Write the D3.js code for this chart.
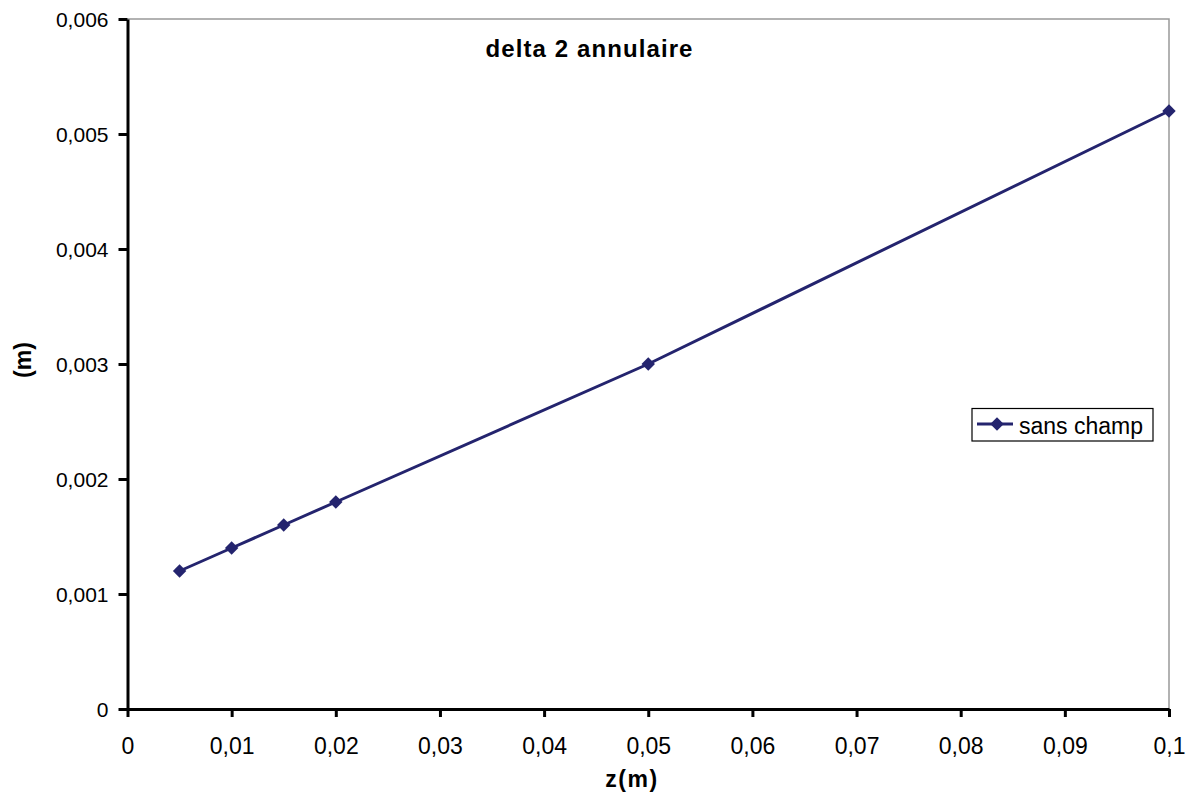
<!DOCTYPE html>
<html><head><meta charset="utf-8">
<script src="https://cdn.jsdelivr.net/npm/d3@7"></script>
<style>body{margin:0;background:#fff;}svg{display:block;font-family:"Liberation Sans",Arial,sans-serif;}</style>
</head><body>
<svg id="c" width="1194" height="793"></svg>
<script>
const xValues = [0.005, 0.01, 0.015, 0.02, 0.05, 0.1];
const yValues = [0.0012, 0.0014, 0.0016, 0.0018, 0.003, 0.0052];
const xTicks = [0,0.01,0.02,0.03,0.04,0.05,0.06,0.07,0.08,0.09,0.1];
const yTicks = [0,0.001,0.002,0.003,0.004,0.005,0.006];
const seriesName = "sans champ";
const title = "delta 2 annulaire";
const xTitle = "z(m)";
const yTitle = "(m)";

const svg = d3.select("#c");
const L=127.5, R=1169, T=19, B=709;
const x = d3.scaleLinear().domain([0,0.1]).range([L,R]);
const y = d3.scaleLinear().domain([0,0.006]).range([B,T]);
const fmt = d => d===0 ? "0" : d3.format(".3~f")(d).replace(".",",");
const color = "#24246e";
const FS = 23;

// plot border (gray top/right)
svg.append("path").attr("d",`M${L},${T}H${R}V${B}`).attr("fill","none").attr("stroke","#999").attr("stroke-width",1.5);

const xa = svg.append("g").attr("transform",`translate(0,${B})`)
  .call(d3.axisBottom(x).tickValues(xTicks).tickSize(8).tickFormat(fmt).tickSizeOuter(0));
const ya = svg.append("g").attr("transform",`translate(${L},0)`)
  .call(d3.axisLeft(y).tickValues(yTicks).tickSize(9).tickFormat(fmt).tickSizeOuter(0));
[xa,ya].forEach(a=>{
  a.select(".domain").attr("stroke","#000").attr("stroke-width",3);
  a.selectAll(".tick line").attr("stroke","#000").attr("stroke-width",3);
  a.selectAll("text").attr("font-size",FS).attr("fill","#000").attr("font-family","Liberation Sans, Arial, sans-serif");
});
xa.selectAll(".tick text").attr("y",45).attr("dy",0);
ya.selectAll(".tick text").attr("x",-19).attr("dy","0.35em").attr("font-size",21);

const pts = xValues.map((v,i)=>[v,yValues[i]]);
svg.append("path").datum(pts).attr("fill","none").attr("stroke",color).attr("stroke-width",3)
  .attr("d",d3.line().x(d=>x(d[0])).y(d=>y(d[1])));
const diamond = d3.symbol().type(d3.symbolDiamond2).size(115);
svg.selectAll(".pt").data(pts).join("path").attr("class","pt")
  .attr("transform",d=>`translate(${x(d[0])},${y(d[1])})`).attr("d",diamond).attr("fill",color);

svg.append("text").attr("x",589.5).attr("y",57).attr("text-anchor","middle")
  .attr("font-size",24).attr("letter-spacing",1.1).attr("font-weight","bold").text(title);
svg.append("text").attr("x",632).attr("y",787).attr("text-anchor","middle")
  .attr("font-size",FS).attr("font-weight","bold").attr("letter-spacing",1.5).text(xTitle);
svg.append("text").attr("transform","translate(31,360) rotate(-90)").attr("text-anchor","middle")
  .attr("font-size",FS).attr("font-weight","bold").text(yTitle);

// legend
const lg = svg.append("g");
lg.append("rect").attr("x",972).attr("y",408.5).attr("width",181).attr("height",32.5)
  .attr("fill","#fff").attr("stroke","#000").attr("stroke-width",1.2);
lg.append("line").attr("x1",977).attr("x2",1013).attr("y1",424).attr("y2",424).attr("stroke",color).attr("stroke-width",3);
lg.append("path").attr("transform","translate(997,424)").attr("d",diamond).attr("fill",color);
lg.append("text").attr("x",1019).attr("y",434).attr("font-size",FS).text(seriesName);
</script>
</body></html>
